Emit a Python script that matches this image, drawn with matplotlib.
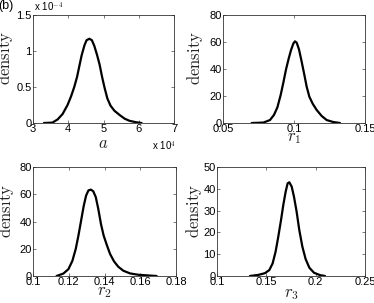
import numpy as np
import matplotlib
matplotlib.use('Agg')
import matplotlib.pyplot as plt
from matplotlib.ticker import FormatStrFormatter

plt.rcParams['font.family'] = ['Liberation Sans', 'DejaVu Sans']
plt.rcParams['mathtext.fontset'] = 'cm'

# posterior density curves
a_x = [33100, 35500, 37000, 38400, 39800, 40800, 41700, 42500, 43100, 43800,
       44600, 45200, 46000, 46700, 47400, 48200, 48900, 49600, 50300, 51100,
       52000, 53100, 54600, 56000, 57400, 59300, 60800]
a_y = [0.0, 0.005, 0.05, 0.125, 0.25, 0.37, 0.50, 0.64, 0.78, 0.94, 1.08, 1.15,
       1.17, 1.15, 1.07, 0.94, 0.81, 0.64, 0.49, 0.34, 0.24, 0.17, 0.11, 0.06,
       0.03, 0.01, 0.0]
a_y = [v * 1e-4 for v in a_y]

r1_x = [0.0702, 0.0784, 0.0831, 0.0859, 0.0883, 0.0906, 0.0925, 0.0944, 0.0963,
        0.0979, 0.0996, 0.1007, 0.1019, 0.1035, 0.1054, 0.1073, 0.1089, 0.1108,
        0.1132, 0.1160, 0.1195, 0.1230, 0.1277, 0.1324]
r1_y = [0.0, 0.3, 2.2, 6.0, 11.6, 20.7, 29.9, 39.8, 47.9, 54.0, 59.0, 60.5, 59.5,
        54.6, 45.4, 35.6, 27.0, 19.5, 14.2, 9.6, 5.2, 2.2, 0.7, 0.0]

r2_x = [0.1132, 0.1170, 0.1198, 0.1220, 0.1239, 0.1254, 0.1269, 0.1284, 0.1297,
        0.1310, 0.1324, 0.1337, 0.1351, 0.1365, 0.1380, 0.1395, 0.1412, 0.1431,
        0.1453, 0.1477, 0.1505, 0.1543, 0.1589, 0.1645, 0.1692]
r2_y = [0.0, 1.8, 5.0, 11.0, 19.8, 29.6, 40.6, 51.6, 59.0, 62.8, 63.4, 62.2, 58.0,
        49.4, 38.3, 29.8, 23.1, 16.2, 10.8, 6.8, 3.9, 1.9, 0.9, 0.4, 0.0]

r3_x = [0.1334, 0.1419, 0.1486, 0.1530, 0.1564, 0.1594, 0.1621, 0.1649, 0.1672,
        0.1696, 0.1716, 0.1733, 0.1757, 0.1780, 0.1807, 0.1834, 0.1865, 0.1898,
        0.1936, 0.1983, 0.2044, 0.2095]
r3_y = [0.0, 0.5, 1.3, 2.7, 5.8, 11.2, 18.0, 25.7, 32.6, 38.7, 42.5, 43.0, 41.0,
        36.4, 29.5, 21.1, 13.5, 7.8, 3.8, 1.5, 0.4, 0.0]

W, H = 374, 303
fig = plt.figure(figsize=(W / 100, H / 100), dpi=100)

def box(l, t, r, b):
    return [l / W, 1 - b / H, (r - l) / W, (b - t) / H]

panels = [
    dict(pos=box(33, 15, 174, 123), x=np.array(a_x) / 1e4, y=np.array(a_y) / 1e-4,
         xlim=(3, 7), xt=[3, 4, 5, 6, 7], ylim=(0, 1.5), yt=[0, 0.5, 1, 1.5],
         xl='$a$', ylx=-0.128, xly=-0.122),
    dict(pos=box(223, 15, 365, 123), x=r1_x, y=r1_y,
         xlim=(0.05, 0.15), xt=[0.05, 0.1, 0.15], ylim=(0, 80), yt=[0, 20, 40, 60, 80],
         xl='$r_1$', ylx=-0.127, xly=-0.078),
    dict(pos=box(33, 167, 176, 276), x=r2_x, y=r2_y,
         xlim=(0.1, 0.18), xt=[0.1, 0.12, 0.14, 0.16, 0.18], ylim=(0, 80),
         yt=[0, 20, 40, 60, 80], xl='$r_2$', ylx=-0.119, xly=-0.086),
    dict(pos=box(217, 167, 365, 276), x=r3_x, y=r3_y,
         xlim=(0.1, 0.25), xt=[0.1, 0.15, 0.2, 0.25], ylim=(0, 50),
         yt=[0, 10, 20, 30, 40, 50], xl='$r_3$', ylx=-0.088, xly=-0.1),
]

for p in panels:
    ax = fig.add_axes(p['pos'])
    ax.plot(p['x'], p['y'], color='black', lw=1.6, solid_capstyle='round',
            solid_joinstyle='round')
    ax.set_xlim(*p['xlim'])
    ax.set_ylim(*p['ylim'])
    ax.set_xticks(p['xt'])
    ax.set_yticks(p['yt'])
    ax.xaxis.set_major_formatter(FormatStrFormatter('%g'))
    ax.yaxis.set_major_formatter(FormatStrFormatter('%g'))
    ax.tick_params(direction='in', length=2.5, width=0.5, labelsize=8, pad=1,
                   top=True, right=True, color='#444444')
    for s in ax.spines.values():
        s.set_linewidth(0.6)
        s.set_color('#333333')
    ax.set_ylabel(r'$\mathrm{density}$', fontsize=12, color='#222222')
    ax.yaxis.set_label_coords(p['ylx'], 0.6)
    ax.set_xlabel(p['xl'], fontsize=12, color='#222222')
    ax.xaxis.set_label_coords(0.5, p['xly'])

# MATLAB style exponent labels on the first panel
fig.text(34 / W, 1 - 7 / H, r'x 10$^{-4}$', fontsize=7, va='center', ha='left')
fig.text(152 / W, 1 - 146 / H, r'x 10$^{4}$', fontsize=7, va='center', ha='left')
fig.text(-2 / W, 1 - 6 / H, '(b)', fontsize=9, va='center', ha='left')

fig.savefig('out.png', dpi=100)
